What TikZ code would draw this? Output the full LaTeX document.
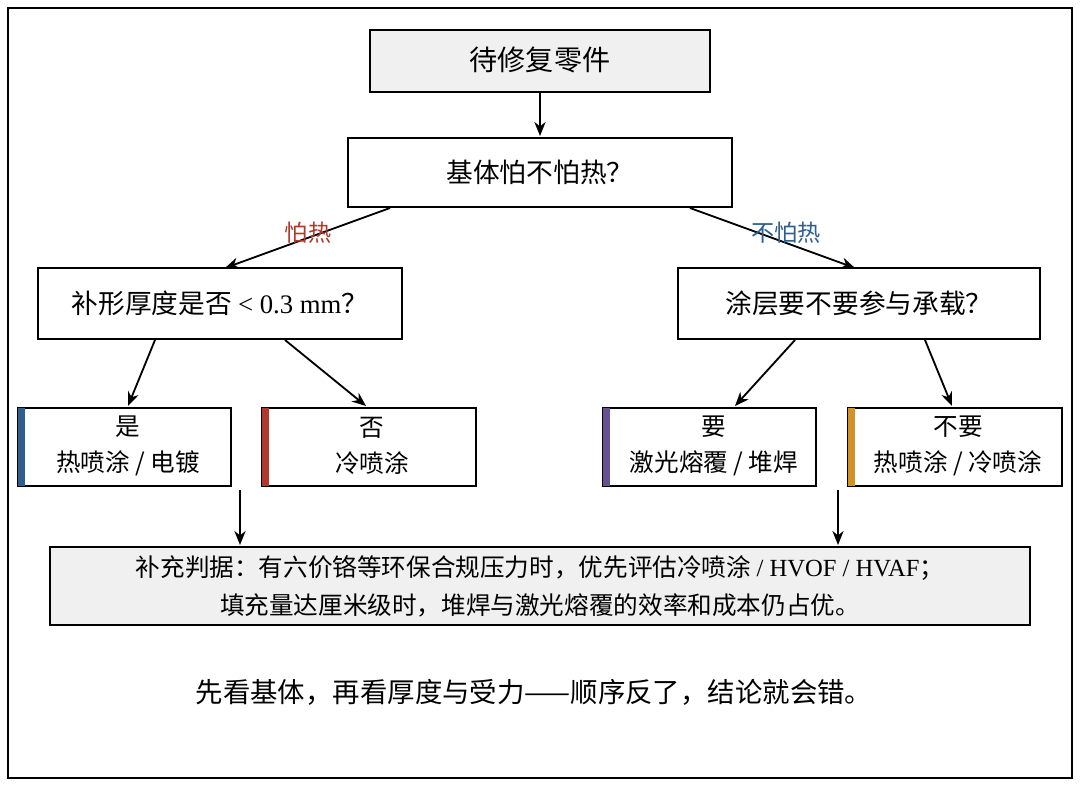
\documentclass[tikz,border=0pt]{standalone}
\usepackage{fontspec}
\setmainfont{Liberation Serif}
\newfontfamily\cjk{Noto Sans CJK SC}
\usetikzlibrary{arrows.meta}
\definecolor{barblue}{HTML}{2E5E8C}
\definecolor{barred}{HTML}{B0392E}
\definecolor{barpurple}{HTML}{67508F}
\definecolor{barorange}{HTML}{D2922A}
\definecolor{boxgray}{HTML}{F0F0F0}
\tikzset{
  box/.style={draw, line width=1.3pt},
  leaf/.style={align=center, font=\fontsize{17.5}{26}\selectfont\cjk},
  arr/.style={-{Stealth[length=10pt,width=8pt]}, line width=1.3pt},
  branch/.style={font=\fontsize{16.5}{18}\selectfont\cjk},
}
\begin{document}
\begin{tikzpicture}[x=0.025cm, y=-0.025cm]
    \useasboundingbox (0,0) rectangle (1080,787);
    \draw[line width=1.5pt] (8,8) rectangle (1072,778);

    % decision boxes
    \draw[box, fill=boxgray] (370,30) rectangle (710,92);
    \node[font=\fontsize{20}{24}\selectfont\cjk] (part) at (540,60) {待修复零件};
    \draw[box] (348,138) rectangle (732,207);
    \node[font=\fontsize{19}{22}\selectfont\cjk] (heat) at (540,172) {基体怕不怕热？};
    \draw[box] (38,268) rectangle (402,339);
    \node[font=\fontsize{19}{22}\selectfont\cjk] (thick) at (220,303) {补形厚度是否 {\rmfamily< 0.3 mm}？};
    \draw[box] (678,268) rectangle (1040,339);
    \node[font=\fontsize{19}{22}\selectfont\cjk] (load) at (859,303) {涂层要不要参与承载？};

    % leaves with colour bars
    \draw[box] (18,408) rectangle (231,486);
    \fill[barblue] (18,408) rectangle (25,486);
    \node[leaf] (yes) at (128,446) {是\\热喷涂 / 电镀};
    \draw[box] (262,408) rectangle (476,486);
    \fill[barred] (262,408) rectangle (269,486);
    \node[leaf] (no) at (372,446) {否\\冷喷涂};
    \draw[box] (603,408) rectangle (816,486);
    \fill[barpurple] (603,408) rectangle (610,486);
    \node[leaf] (need) at (714,446) {要\\激光熔覆 / 堆焊};
    \draw[box] (848,408) rectangle (1062,486);
    \fill[barorange] (848,408) rectangle (855,486);
    \node[leaf] (noneed) at (958,446) {不要\\热喷涂 / 冷喷涂};

    % note box
    \draw[box, fill=boxgray] (50,547) rectangle (1030,625);
    \node[font=\fontsize{17.5}{27}\selectfont\cjk, align=center] (note) at (540,586)
      {补充判据：有六价铬等环保合规压力时，优先评估冷喷涂 {\rmfamily/ HVOF / HVAF}；\\填充量达厘米级时，堆焊与激光熔覆的效率和成本仍占优。};
    \node[font=\fontsize{19.5}{22}\selectfont\cjk] (tip) at (534,692) {先看基体，再看厚度与受力——顺序反了，结论就会错。};

    % connectors
    \coordinate (pb) at (540,92);   \coordinate (ht) at (540,136);
    \coordinate (hl) at (390,208);  \coordinate (tt) at (225,268);
    \coordinate (hr) at (690,208);  \coordinate (lt) at (855,268);
    \draw[arr] (pb) -- (ht);
    \draw[arr] (hl) -- (tt);
    \draw[arr] (hr) -- (lt);
    \node[branch, text=barred] (hot) at (308,233) {怕热};
    \node[branch, text=barblue] (cool) at (786,233) {不怕热};
    \draw[arr] (155,340) -- (128,406);
    \draw[arr] (285,340) -- (366,406);
    \draw[arr] (795,340) -- (735,406);
    \draw[arr] (925,340) -- (952,406);
    \draw[arr] (240,490) -- (240,545);
    \draw[arr] (838,490) -- (838,545);
\end{tikzpicture}
\end{document}
